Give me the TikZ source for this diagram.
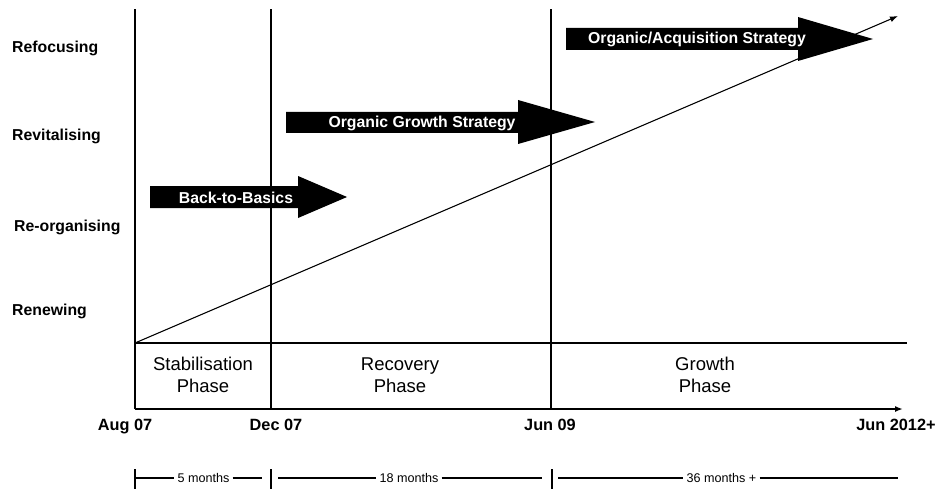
\documentclass[tikz,border=0pt]{standalone}
\usepackage{fontspec}
\setmainfont{Liberation Sans}
\usetikzlibrary{arrows.meta}

\begin{document}
\begin{tikzpicture}[x=1pt,y=-1pt,>={Latex[length=8pt,width=6pt]},
		lvl/.style={anchor=base west,inner sep=0pt,font=\fontsize{15.8}{18}\selectfont\bfseries},
		date/.style={anchor=base,inner sep=0pt,font=\fontsize{16.3}{19}\selectfont\bfseries},
		phase/.style={align=center,inner sep=0pt,font=\fontsize{18.5}{21.5}\selectfont},
		strat/.style={anchor=base,text=white,inner sep=0pt,font=\fontsize{15.8}{18}\selectfont\bfseries},
		dur/.style={inner sep=3pt,font=\fontsize{12.6}{15}\selectfont},
		grid/.style={line width=2pt},
		tick/.style={line width=1.8pt}]
	\useasboundingbox (0,0) rectangle (949,489);

	\node[lvl] (refoc) at (12,53) {Refocusing};
	\node[lvl] (revit) at (12,141) {Revitalising};
	\node[lvl] (reorg) at (14,231) {Re-organising};
	\node[lvl] (renew) at (12,315) {Renewing};

	\fill (150,186) -- (298,186) -- (298,176) -- (347,197) -- (298,218) -- (298,208) -- (150,208) -- cycle;
	\node[strat] (btb) at (236,203) {Back-to-Basics};
	\fill (286,112) -- (518,112) -- (518,100) -- (595,122) -- (518,144) -- (518,133) -- (286,133) -- cycle;
	\node[strat] (ogs) at (422,128) {Organic Growth Strategy};
	\fill (566,28) -- (798,28) -- (798,17) -- (873,39) -- (798,61) -- (798,50) -- (566,50) -- cycle;
	\node[strat] (oas) at (697,44) {Organic/Acquisition Strategy};

	\coordinate (aug) at (135,409);
	\coordinate (dec) at (271,409);
	\coordinate (jun) at (551,409);
	\coordinate (augtop) at (135,9);
	\coordinate (dectop) at (271,9);
	\coordinate (juntop) at (551,9);
	\coordinate (origin) at (135,343);
	\coordinate (boxend) at (907,343);
	\coordinate (axisend) at (903,409);
	\coordinate (trend) at (898,16);

	\draw[grid] (aug) -- (augtop);
	\draw[grid] (dec) -- (dectop);
	\draw[grid] (jun) -- (juntop);
	\draw[grid] (origin) -- (boxend);
	\draw[grid,->] (aug) -- (axisend);
	\draw[line width=1.1pt,->] (origin) -- (trend);

	\node[phase] (stab) at (203,375) {Stabilisation\\Phase};
	\node[phase] (recov) at (400,375) {Recovery\\Phase};
	\node[phase] (grow) at (705,375) {Growth\\Phase};

	\node[date] (daug) at (125,430) {Aug 07};
	\node[date] (ddec) at (276,430) {Dec 07};
	\node[date] (djun) at (550,430) {Jun 09};
	\node[date] (dend) at (896,430) {Jun 2012+};

	\coordinate (t1a) at (135,469);
	\coordinate (t1b) at (135,489);
	\coordinate (t2a) at (271,469);
	\coordinate (t2b) at (271,489);
	\coordinate (t3a) at (552,469);
	\coordinate (t3b) at (552,489);
	\draw[tick] (t1a) -- (t1b);
	\draw[tick] (t2a) -- (t2b);
	\draw[tick] (t3a) -- (t3b);

	\node[dur] (m5) at (203.5,478) {5 months};
	\node[dur] (m18) at (409,478) {18 months};
	\node[dur] (m36) at (721.5,478) {36 months +};
	\coordinate (s1) at (135,478);
	\coordinate (e1) at (262,478);
	\coordinate (s2) at (278,478);
	\coordinate (e2) at (542,478);
	\coordinate (s3) at (558,478);
	\coordinate (e3) at (898,478);
	\draw[tick] (s1) -- (m5.west);
	\draw[tick] (m5.east) -- (e1);
	\draw[tick] (s2) -- (m18.west);
	\draw[tick] (m18.east) -- (e2);
	\draw[tick] (s3) -- (m36.west);
	\draw[tick] (m36.east) -- (e3);
\end{tikzpicture}
\end{document}
